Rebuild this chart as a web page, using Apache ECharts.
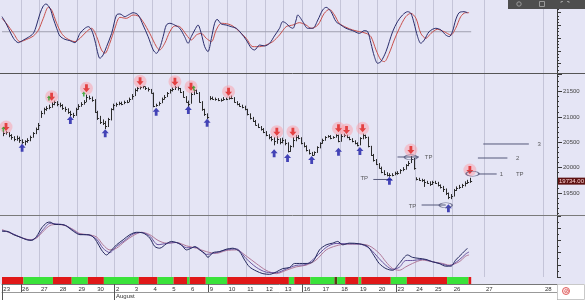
<!DOCTYPE html>
<html><head><meta charset="utf-8">
<script src="https://cdn.jsdelivr.net/npm/echarts@6/dist/echarts.min.js"></script>
<style>html,body{margin:0;padding:0;background:#fff}#c{width:585px;height:300px}</style>
</head><body><div id="c"></div>
<script>
// ---------- data ----------
const dayLabels = ['23','26','27','28','29','30','2','3','4','5','6','9','10','11','12','13','16','17','18','19','20','23','24','25','26','27','28'];
const barsPerDay = 7;
const tradedDays = 25;
const futureDayStarts = [180, 202];
const totalSlots = 207;
const weekStartDays = [0, 1, 6, 11, 16, 21];
const monthLabel = 'August';
const monthStartDay = 6;

const highs = [
 20720,20720,20700,20660,20620,20630,20610,
 20560,20540,20580,20630,20700,20790,20880,
 21120,21180,21210,21240,21290,21320,21310,
 21280,21250,21200,21170,21120,21080,21180,
 21250,21290,21330,21440,21420,21400,21350,
 21120,21020,20950,20920,20980,21170,21260,
 21280,21300,21300,21320,21330,21380,21450,
 21560,21590,21600,21610,21600,21580,21550,
 21480,21260,21300,21380,21430,21490,21550,
 21580,21610,21600,21570,21510,21410,21320,
 21480,21540,21540,21490,21310,21160,21070,
 21410,21400,21380,21370,21360,21390,21380,
 21400,21420,21390,21310,21270,21240,21220,
 21160,21070,21000,20940,20870,20820,20780,
 20720,20660,20620,20600,20620,20580,20590,
 20560,20500,20440,20600,20640,20640,20600,
 20500,20440,20360,20310,20320,20420,20500,
 20570,20620,20640,20640,20620,20660,20650,
 20660,20670,20650,20610,20580,20540,20500,
 20600,20670,20650,20610,20430,20270,20170,
 20090,20020,19950,19910,19890,19890,19920,
 19930,19970,20010,20070,20130,20230,20190,
 19810,19800,19780,19770,19740,19730,19740,
 19740,19720,19670,19640,19590,19510,19480,
 19580,19630,19660,19680,19730,19760,19800];
const lows = [
 20620,20650,20600,20550,20520,20530,20490,
 20470,20440,20490,20520,20590,20660,20740,
 20980,21050,21120,21150,21180,21230,21210,
 21190,21140,21100,21060,21010,20980,21020,
 21140,21200,21240,21290,21340,21300,21080,
 20940,20860,20840,20760,20800,20930,21130,
 21200,21230,21230,21250,21270,21290,21340,
 21410,21500,21540,21560,21530,21500,21460,
 21190,21200,21220,21270,21340,21390,21460,
 21500,21530,21520,21470,21380,21280,21200,
 21260,21430,21450,21280,21120,21020,20960,
 21330,21340,21320,21310,21300,21320,21330,
 21340,21350,21280,21230,21200,21170,21130,
 21030,20950,20900,20830,20780,20730,20680,
 20620,20560,20520,20440,20470,20460,20480,
 20440,20300,20310,20400,20520,20560,20460,
 20400,20320,20260,20230,20240,20290,20380,
 20470,20530,20590,20560,20570,20590,20500,
 20510,20600,20580,20540,20500,20460,20420,
 20440,20560,20570,20400,20230,20120,20050,
 19980,19890,19850,19830,19820,19830,19850,
 19860,19880,19930,19960,20030,20090,19960,
 19750,19740,19720,19620,19680,19640,19660,
 19680,19630,19590,19520,19460,19380,19380,
 19430,19540,19580,19600,19630,19680,19700];
const closes = [
 20680,20700,20640,20600,20560,20590,20540,
 20500,20520,20540,20600,20680,20760,20850,
 21080,21150,21180,21200,21260,21300,21250,
 21230,21180,21150,21100,21060,21030,21150,
 21220,21260,21300,21400,21380,21340,21100,
 20980,20900,20880,20820,20950,21150,21230,
 21250,21270,21260,21290,21300,21350,21420,
 21520,21560,21580,21600,21570,21540,21480,
 21220,21230,21280,21350,21400,21470,21520,
 21550,21580,21560,21500,21400,21300,21250,
 21450,21520,21480,21300,21150,21050,21000,
 21380,21360,21350,21340,21330,21360,21350,
 21370,21380,21300,21250,21220,21200,21150,
 21050,20980,20920,20850,20800,20760,20700,
 20640,20600,20560,20520,20560,20500,20540,
 20480,20330,20420,20540,20600,20580,20480,
 20420,20340,20290,20250,20300,20400,20480,
 20550,20600,20620,20580,20600,20640,20520,
 20620,20640,20600,20560,20520,20480,20450,
 20580,20640,20600,20420,20250,20150,20080,
 20000,19920,19880,19860,19850,19860,19890,
 19900,19950,19980,20050,20100,20180,20000,
 19780,19760,19750,19720,19700,19680,19720,
 19700,19650,19620,19580,19500,19420,19450,
 19560,19600,19620,19650,19700,19720,19734];
const lastPrice = 19734;
const priceMin = 19067, priceMax = 21845;

const redArrows = [[1,20801],[18,21398],[31,21563],[51,21700],[64,21693],[70,21595],[84,21496],[102,20708],[108,20708],[125,20775],[128,20742],[134,20775],[152,20348],[174,19954]];
const blueArrows = [[7,20390],[25,20939],[38,20677],[57,21100],[69,21136],[76,20886],[101,20283],[106,20190],[115,20151],[125,20314],[133,20328],[144,19740],[166,19199]];
const greenArrows = [[0,20760],[17,21372],[30,21450],[71,21570]];

const tpLines = [[147,155,20210],[138,145,19767],[156,165,19264],[177,184,19875],[177,188,20190],[179,196,20466]];
const tpEllipses = [[152,20205],[165,19260],[175,19880]];
const tpTexts = [['TP',157,20200],['TP',133,19790],['TP',151,19240],['1',185,19875],['TP',191,19875],['2',191,20190],['3',199,20466]];

// top oscillator (stochastic) [bar position, value]
const stochK = [[0,73.8],[1.8,60.6],[4.3,39.6],[6.1,32.8],[8.0,37],[9.8,41.2],[11.7,47.5],[12.9,60.6],[14.2,79],[15.4,90.6],[16.4,93.7],[17.9,86.9],[19.1,71.1],[20.4,55.4],[21.6,43.3],[23.5,38],[25.3,36],[27.2,32.8],[29.1,47.5],[30.9,55.4],[32.2,58],[33.4,52.8],[34.6,37],[35.9,13.4],[36.5,8.1],[37.7,13.4],[39.0,26.5],[40.9,47.5],[42.7,76.4],[44.0,78],[45.8,73.8],[47.1,76.4],[48.9,80],[50.8,76.4],[52.6,60.6],[54.5,42.3],[56.4,21.3],[57.6,16],[58.8,23.9],[60.1,42.3],[61.3,60.6],[62.6,63.3],[64.4,60.6],[66.3,55.4],[68.1,42.3],[69.4,31.8],[70.6,42.3],[71.9,52.8],[73.1,60.6],[74.3,47.5],[75.6,26.5],[76.8,18.6],[78.1,39.6],[79.3,63.3],[80.2,69.5],[81.8,62.2],[83.6,60.6],[85.5,58],[87.4,55.4],[89.2,47.5],[91.1,37],[93.0,23.9],[94.2,21.3],[96.1,29.1],[97.9,27.6],[99.8,31.8],[101.6,43.3],[103.5,55.4],[104.7,65.9],[106.0,63.3],[107.2,58],[108.5,55.4],[109.7,68.5],[110.3,76.4],[112.2,65.9],[114.0,55.4],[115.9,55.4],[117.8,68.5],[119.6,84.3],[120.9,88.5],[122.7,81.6],[124.6,65.9],[126.4,60.6],[128.3,55.4],[130.8,51.7],[133.3,47.5],[135.1,51.7],[136.4,50.1],[137.6,31.8],[138.9,10.8],[140.1,0.3],[141.3,2.9],[143.2,18.6],[145.7,50.1],[147.5,65.9],[149.4,76.4],[151.3,81.6],[152.5,79],[153.7,63.3],[155.0,42.3],[156.2,31.8],[157.5,37],[159.3,50.1],[161.8,55.4],[163.7,52.8],[165.5,44.9],[166.8,42.3],[168.0,50.1],[169.2,68.5],[170.5,80],[172.3,81.6],[173.6,80]];
const stochD = [[0,71.1],[1.8,62.2],[4.3,47.5],[6.7,34.4],[9.2,38],[11.7,43.3],[13.6,52.8],[15.4,71.1],[17.3,88.5],[18.5,84.3],[20.4,63.3],[22.2,47.5],[24.1,39.6],[27.2,34.4],[29.1,39.6],[31.5,50.1],[33.4,55.4],[35.3,42.3],[37.1,21.3],[38.4,16],[40.2,31.8],[42.1,55.4],[44.0,72.7],[46.4,71.1],[48.9,76.4],[50.8,74.8],[52.6,65.9],[55.1,47.5],[57.6,26.5],[58.8,21.3],[60.7,31.8],[62.6,50.1],[64.4,59],[66.3,58],[68.8,44.9],[70.6,37],[72.5,44.9],[74.3,47.5],[76.2,39.6],[78.1,34.4],[79.9,52.8],[81.8,63.3],[84.3,62.2],[86.1,59],[88.6,50.1],[91.1,39.6],[93.6,26.5],[96.1,26.5],[98.5,29.1],[101.0,34.4],[103.5,44.9],[106.0,58],[108.5,60.6],[110.9,64.3],[113.4,60.6],[115.3,55.4],[117.8,60.6],[120.2,79],[122.1,85.3],[124.0,76.4],[125.8,63.3],[128.3,57],[130.8,52.8],[133.3,50.1],[135.8,47.5],[137.6,42.3],[139.5,21.3],[141.3,5.5],[142.6,2.9],[144.4,16],[146.3,37],[148.2,55.4],[150.6,73.8],[152.5,79],[154.4,71.1],[156.2,47.5],[158.1,39.6],[160.0,47.5],[162.4,53.8],[164.9,50.1],[167.4,44.9],[169.2,55.4],[171.1,73.8],[172.9,80],[174.2,80]];
const stochMidLevel = 50;
const stochMidRange = [0, 175];

// bottom oscillator lines [bar position, value]
const oscFast = [[0,75],[1.8,75],[4.3,69.4],[6.7,65.5],[9.2,61.1],[11.1,60],[12.9,66.6],[14.8,80.5],[16.7,88.9],[17.9,90],[19.8,86.1],[22.2,86.1],[24.1,83.3],[26.6,75],[29.1,69.4],[31.5,69.4],[33.4,67.8],[35.3,58.3],[37.1,44.4],[39.0,36.1],[40.9,44.4],[42.7,52.7],[45.2,61.1],[47.7,69.4],[50.2,73.3],[52.6,72.2],[55.1,63.9],[57.0,50],[58.8,47.2],[61.3,54.4],[63.2,58.3],[65.0,56.6],[66.9,52.7],[68.8,44.4],[70.6,47.2],[71.9,50],[73.7,44.4],[75.6,38.8],[76.8,32.2],[78.7,40],[81.2,41.6],[83.6,45.5],[86.1,47.2],[88.6,41.6],[90.5,27.7],[92.3,16.6],[94.8,9.9],[97.3,5.5],[99.8,4.4],[102.3,8.3],[104.7,13.8],[107.2,15.5],[109.1,22.2],[110.9,22.2],[113.4,22.2],[115.9,24.9],[118.4,44.4],[120.9,52.7],[123.3,55.5],[125.2,58.3],[127.1,52.7],[129.5,55.5],[133.3,54.4],[136.4,50],[138.2,38.8],[140.7,22.2],[143.2,13.8],[145.7,11],[148.2,22.2],[151.3,36.1],[153.1,32.2],[155.6,30.5],[158.1,28.8],[160.6,24.9],[163.0,22.2],[165.5,17.7],[167.4,17.7],[169.2,27.7],[171.7,38.8],[173.6,47.2]];
const oscMid = [[0,76],[3.0,73],[6.7,65.5],[10.5,60.5],[12.9,65],[15.4,78],[17.9,88],[20.4,87],[23.5,85],[26.6,76.5],[29.1,70],[32.2,69],[35.3,62],[37.7,47],[40.2,40],[42.7,50],[45.8,60],[48.9,70.5],[52.0,73],[55.1,67],[58.2,53],[61.3,55],[65.0,56.6],[68.8,48],[72.5,48.5],[76.2,37],[79.9,40],[83.6,44.5],[87.4,46],[91.1,30],[94.8,16],[98.5,8],[102.3,7],[106.0,13],[109.7,19],[113.4,20.5],[117.1,33],[120.9,48.5],[124.6,55],[128.3,54.5],[133.3,54],[137.0,47],[140.7,30],[143.2,19],[145.7,12.5],[148.2,16],[150.6,27],[153.1,27],[156.8,29],[160.6,25],[164.3,21],[166.8,18.5],[170.5,28],[173.0,38],[174.2,41]];
const oscSlow = [[0,77.8],[3.0,72.2],[6.7,65.5],[10.5,61.1],[12.9,63.9],[15.4,75],[17.9,84.4],[20.4,86.1],[23.5,84.4],[26.6,77.8],[29.1,71.1],[32.2,69.4],[35.3,65.5],[37.7,52.7],[40.2,44.4],[42.7,47.2],[45.8,58.3],[48.9,67.8],[52.0,73.3],[55.1,69.4],[58.2,60],[61.3,55.5],[65.0,56.6],[68.8,51.1],[72.5,47.2],[76.2,41.6],[79.9,38.8],[83.6,43.3],[87.4,44.4],[91.1,34.4],[94.8,22.2],[98.5,11],[102.3,5.5],[106.0,11],[109.7,16.6],[113.4,19.4],[117.1,27.7],[120.9,44.4],[124.6,51.1],[128.3,53.9],[133.3,53.9],[137.0,51.1],[140.7,38.8],[143.2,24.9],[145.7,13.8],[148.2,11],[150.6,16.6],[153.1,22.2],[156.8,27.7],[160.6,24.9],[164.3,22.2],[166.8,19.4],[170.5,24.9],[173.0,34.4],[174.2,36.1]];

// red / green state strip: [firstBar, lastBar, state]
const stripRuns = [[0,7,'R'],[8,18,'G'],[19,25,'R'],[26,31,'G'],[32,37,'R'],[38,50,'G'],[51,57,'R'],[58,63,'G'],[64,68,'R'],[69,69,'G'],[70,75,'R'],[76,83,'G'],[84,106,'R'],[107,108,'G'],[109,114,'R'],[115,123,'G'],[124,124,'D'],[125,127,'G'],[128,132,'R'],[133,133,'G'],[134,144,'R'],[145,150,'G'],[151,165,'R'],[166,173,'G'],[174,174,'R']];

// ---------- build ----------
const FONT = "'Liberation Sans', Arial, sans-serif";
const stateColor = {R:'#e01818', G:'#3ae23a', D:'#5a3a12'};
const stateCode = {R:0, G:1, D:2};
const codeColor = [stateColor.R, stateColor.G, stateColor.D];

const dayStarts = [];
for (let d = 0; d < tradedDays; d++) dayStarts.push(d * barsPerDay);
futureDayStarts.forEach(s => dayStarts.push(s));
const cats = new Array(totalSlots).fill('');
dayStarts.forEach((s, k) => { cats[s] = dayLabels[k]; });
const boundarySet = new Set(dayStarts.filter(s => s > 0));
const weekSet = new Set(weekStartDays.map(d => d * barsPerDay));
const monthStart = monthStartDay * barsPerDay;
const monthCats = new Array(totalSlots).fill('');
monthCats[monthStart] = monthLabel;

const priceData = closes.map((c, i) => [i, highs[i], lows[i], c]);
const stripData = stripRuns.map(r => [r[0], r[1], stateCode[r[2]], 0.5]);

const G = [
  {left:2, right:28, top:0, height:73},
  {left:2, right:28, top:74, height:141},
  {left:2, right:28, top:216, height:61},
  {left:2, right:28, top:277, height:7}
];

function catAxis(grid, extra) {
  return Object.assign({
    type:'category', gridIndex:grid, data:cats, boundaryGap:true,
    axisLine:{show:false}, axisTick:{show:false}, axisLabel:{show:false},
    splitLine:{show:true, interval:(i) => boundarySet.has(i), lineStyle:{color:'#c4c4d8', width:1}}
  }, extra || {});
}
function valXAxis(grid) {
  return {type:'value', gridIndex:grid, min:0, max:totalSlots, show:false, splitLine:{show:false}};
}

const axisColor = '#3a3a3a';
const xAxes = [
  catAxis(0),
  valXAxis(0),
  catAxis(1),
  catAxis(2),
  valXAxis(2),
  {
    type:'category', gridIndex:3, data:cats, boundaryGap:true, position:'bottom',
    axisLine:{show:true, lineStyle:{color:'#777', width:1}},
    axisTick:{show:true, interval:(i) => weekSet.has(i), length:8, lineStyle:{color:'#555'}},
    axisLabel:{show:true, interval:0, align:'left', margin:2, fontSize:6, color:'#333', fontFamily:FONT},
    splitLine:{show:false}
  },
  {
    type:'category', gridIndex:3, data:monthCats, boundaryGap:true, position:'bottom', offset:8,
    axisLine:{show:true, lineStyle:{color:'#999', width:1}},
    axisTick:{show:true, interval:(i) => i === 0 || i === monthStart, length:8, lineStyle:{color:'#555'}},
    axisLabel:{show:true, interval:0, align:'left', margin:1, fontSize:6, color:'#333', fontFamily:FONT},
    splitLine:{show:false}
  }
];

const yAxes = [
  {type:'value', gridIndex:0, min:-15, max:100, position:'right', splitNumber:5,
   axisLine:{show:true, onZero:false, lineStyle:{color:axisColor}}, axisTick:{show:true, length:4, lineStyle:{color:axisColor}},
   minorTick:{show:true, splitNumber:4, length:2, lineStyle:{color:axisColor}},
   axisLabel:{show:false}, splitLine:{show:false}},
  {type:'value', gridIndex:1, min:priceMin, max:priceMax, position:'right', splitNumber:5,
   axisLine:{show:true, onZero:false, lineStyle:{color:axisColor}}, axisTick:{show:true, length:5, lineStyle:{color:axisColor}},
   minorTick:{show:true, splitNumber:5, length:2, lineStyle:{color:axisColor}},
   axisLabel:{show:true, margin:6, fontSize:6, color:'#444', fontFamily:FONT,
     formatter:(v) => (Math.round(v) % 500 === 0 ? String(Math.round(v)) : '')},
   splitLine:{show:false}},
  {type:'value', gridIndex:2, min:0, max:100, position:'right', splitNumber:5,
   axisLine:{show:true, onZero:false, lineStyle:{color:axisColor}}, axisTick:{show:true, length:4, lineStyle:{color:axisColor}},
   minorTick:{show:true, splitNumber:2, length:2, lineStyle:{color:axisColor}},
   axisLabel:{show:false}, splitLine:{show:false}},
  {type:'value', gridIndex:3, min:0, max:1, show:false, splitLine:{show:false}}
];

function osc(data, color, xi, yi, z) {
  return {type:'line', xAxisIndex:xi, yAxisIndex:yi, data:data, symbol:'none', smooth:0.3,
          lineStyle:{color:color, width:1}, z:z || 3, silent:true};
}

const downArrow = 'path://M3,0H7V5H10L5,10L0,5H3Z';
const upArrow = 'path://M5,0L10,5H7V10H3V5H0Z';

const series = [
  {type:'line', xAxisIndex:1, yAxisIndex:0, data:[[stochMidRange[0], stochMidLevel],[stochMidRange[1], stochMidLevel]],
   symbol:'none', lineStyle:{color:'#a0a0b0', width:1}, z:2, silent:true},
  osc(stochD, '#c8504c', 1, 0),
  osc(stochK, '#2a2c6c', 1, 0, 4),

  {type:'custom', xAxisIndex:2, yAxisIndex:1, data:priceData, encode:{x:0, y:[1,2]}, z:3, silent:true,
   renderItem:(params, api) => {
     const i = api.value(0);
     const hi = api.coord([i, api.value(1)]);
     const lo = api.coord([i, api.value(2)]);
     const cl = api.coord([i, api.value(3)]);
     const x = Math.round(hi[0]) + 0.5;
     const yc = Math.round(cl[1]) + 0.5;
     return {type:'group', children:[
       {type:'line', shape:{x1:x, y1:hi[1], x2:x, y2:lo[1]}, style:{stroke:'#2b2b2b', lineWidth:1}},
       {type:'line', shape:{x1:x, y1:yc, x2:x + 1.6, y2:yc}, style:{stroke:'#2b2b2b', lineWidth:1}}
     ]};
   }},

  {type:'scatter', xAxisIndex:2, yAxisIndex:1, data:redArrows, symbol:'circle', symbolSize:13,
   itemStyle:{color:'rgba(255,150,160,0.55)'}, z:4, silent:true},
  {type:'scatter', xAxisIndex:2, yAxisIndex:1, data:redArrows, symbol:downArrow, symbolSize:[7,8],
   itemStyle:{color:'#e0201e'}, z:6, silent:true},
  {type:'scatter', xAxisIndex:2, yAxisIndex:1, data:blueArrows, symbol:upArrow, symbolSize:[7,8],
   itemStyle:{color:'#1a1aa6'}, z:6, silent:true},
  {type:'scatter', xAxisIndex:2, yAxisIndex:1, data:greenArrows, symbol:upArrow, symbolSize:[4,5],
   itemStyle:{color:'#2aa52a'}, z:6, silent:true}
];

tpLines.forEach((t, k) => {
  const s = {type:'line', xAxisIndex:2, yAxisIndex:1, data:[[t[0], t[2]], [t[1], t[2]]], symbol:'none',
             lineStyle:{color:'#55587a', width:1}, z:5, silent:true};
  if (k === 0) {
    s.markLine = {silent:true, symbol:['none','none'], animation:false,
      lineStyle:{color:'rgba(0,0,0,0)', width:1},
      label:{show:true, position:'end', distance:1, formatter:lastPrice.toFixed(2), fontSize:6,
             color:'#ffd6d6', backgroundColor:'#5e1212', padding:[1,1,0,1], fontFamily:FONT},
      data:[{yAxis:lastPrice}]};
  }
  series.push(s);
});
series.push({type:'scatter', xAxisIndex:2, yAxisIndex:1, data:tpEllipses, symbol:'circle', symbolSize:[13,5],
  itemStyle:{color:'rgba(0,0,0,0)', borderColor:'#55587a', borderWidth:1}, z:7, silent:true});
series.push({type:'scatter', xAxisIndex:2, yAxisIndex:1,
  data:tpTexts.map(t => ({name:t[0], value:[t[1], t[2]]})), symbolSize:1,
  itemStyle:{color:'rgba(0,0,0,0)'},
  label:{show:true, position:'right', distance:0, formatter:'{b}', fontSize:6, color:'#333', fontFamily:FONT},
  labelLayout:{hideOverlap:false}, z:7, silent:true});

series.push(osc(oscSlow, '#b07898', 4, 2));
series.push(osc(oscMid, '#6a54a0', 4, 2));
series.push(osc(oscFast, '#24285e', 4, 2, 4));

series.push({type:'custom', xAxisIndex:5, yAxisIndex:3, data:stripData, encode:{x:0, y:3}, z:3, silent:true,
  renderItem:(params, api) => {
    const s = api.value(0), e = api.value(1), code = api.value(2);
    const bw = api.size([1, 0])[0];
    const p0 = api.coord([s, 1]);
    const p1 = api.coord([e, 0]);
    return {type:'rect', shape:{x:p0[0] - bw / 2, y:p0[1], width:(p1[0] - p0[0]) + bw, height:p1[1] - p0[1]},
            style:{fill:codeColor[code]}};
  }});

const chart = echarts.init(document.getElementById('c'), null, {renderer:'canvas'});
chart.setOption({
  animation:false,
  backgroundColor:'#e5e5f5',
  textStyle:{fontFamily:FONT},
  grid:G,
  xAxis:xAxes,
  yAxis:yAxes,
  series:series,
  graphic:[
    {type:'rect', shape:{x:0, y:284, width:585, height:16}, style:{fill:'#ffffff'}, z:-5, silent:true},
    {type:'line', shape:{x1:0, y1:73.5, x2:585, y2:73.5}, style:{stroke:'#555', lineWidth:1}, z:20, silent:true},
    {type:'line', shape:{x1:0, y1:215.5, x2:585, y2:215.5}, style:{stroke:'#7a7a7a', lineWidth:1}, z:20, silent:true},
    {type:'rect', shape:{x:557.5, y:284.5, width:27, height:15}, style:{fill:'#fff', stroke:'#c8c8c8', lineWidth:1}, z:20, silent:true},
    {type:'circle', shape:{cx:566, cy:291, r:3.5}, style:{fill:'#fde4e4', stroke:'#e06060', lineWidth:1}, z:21, silent:true},
    {type:'text', style:{x:566, y:291, text:'⊘', fontSize:6, fill:'#d04040', align:'center', verticalAlign:'middle'}, z:22, silent:true},
    {type:'rect', shape:{x:508, y:0, width:77, height:9}, style:{fill:'#4e4e4e'}, z:30, silent:true},
    {type:'circle', shape:{cx:519, cy:4, r:2.2}, style:{fill:'none', stroke:'#9a9a9a', lineWidth:1}, z:31, silent:true},
    {type:'rect', shape:{x:539.5, y:1.5, width:5, height:5}, style:{fill:'none', stroke:'#9a9a9a', lineWidth:1}, z:31, silent:true},
    {type:'polyline', shape:{points:[[561,3],[561,1.5],[563,1.5]]}, style:{stroke:'#9a9a9a', fill:'none', lineWidth:1}, z:31, silent:true},
    {type:'polyline', shape:{points:[[567,1.5],[569,1.5],[569,3]]}, style:{stroke:'#9a9a9a', fill:'none', lineWidth:1}, z:31, silent:true}
  ]
});
</script>
</body></html>
